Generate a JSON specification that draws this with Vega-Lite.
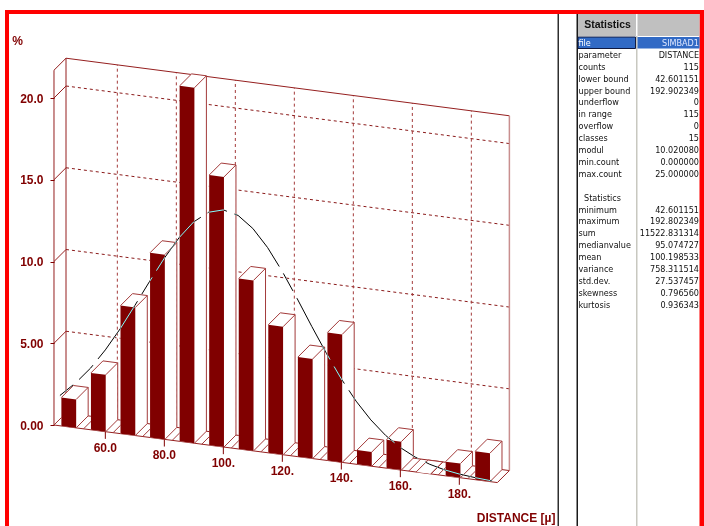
{"$schema":"https://vega.github.io/schema/vega-lite/v6.json","width":704,"height":526,"padding":0,"autosize":{"type":"none"},"background":"white","config":{"view":{"stroke":null},"font":"Liberation Sans"},
"datasets":{
"bars":[{"lower":42.60,"percent":1.74},{"lower":52.62,"percent":3.48},{"lower":62.64,"percent":7.83},{"lower":72.66,"percent":11.30},{"lower":82.68,"percent":21.74},{"lower":92.70,"percent":16.52},{"lower":102.72,"percent":10.43},{"lower":112.74,"percent":7.83},{"lower":122.76,"percent":6.09},{"lower":132.78,"percent":7.83},{"lower":142.80,"percent":0.87},{"lower":152.82,"percent":1.74},{"lower":162.84,"percent":0},{"lower":172.86,"percent":0.87},{"lower":182.88,"percent":1.74}],
"curve":[{"distance":44.6,"percent":1.85},{"distance":50,"percent":2.76},{"distance":55,"percent":3.77},{"distance":60,"percent":5.0},{"distance":65,"percent":6.4},{"distance":70,"percent":7.95},{"distance":75,"percent":9.54},{"distance":80,"percent":11.08},{"distance":85,"percent":12.45},{"distance":90,"percent":13.54},{"distance":95,"percent":14.24},{"distance":100,"percent":14.5},{"distance":105,"percent":14.28},{"distance":110,"percent":13.6},{"distance":115,"percent":12.55},{"distance":120,"percent":11.2},{"distance":125,"percent":9.67},{"distance":130,"percent":8.07},{"distance":135,"percent":6.53},{"distance":140,"percent":5.1},{"distance":145,"percent":3.86},{"distance":150,"percent":2.83},{"distance":155,"percent":2.0},{"distance":160,"percent":1.37},{"distance":165,"percent":0.91},{"distance":170,"percent":0.58},{"distance":175,"percent":0.36},{"distance":180,"percent":0.22},{"distance":185,"percent":0.13},{"distance":190,"percent":0.07},{"distance":192.9,"percent":0.05}],
"ticks":[{"distance":60,"label":"60.0"},{"distance":80,"label":"80.0"},{"distance":100,"label":"100."},{"distance":120,"label":"120."},{"distance":140,"label":"140."},{"distance":160,"label":"160."},{"distance":180,"label":"180."}],
"levels":[{"level":0},{"level":5},{"level":10},{"level":15},{"level":20}],
"edges":[{"d0":42.6,"p0":0,"z0":0,"d1":42.6,"p1":21.7,"z1":0},{"d0":42.6,"p0":0,"z0":1,"d1":42.6,"p1":21.7,"z1":1},{"d0":42.6,"p0":21.7,"z0":0,"d1":42.6,"p1":21.7,"z1":1},{"d0":42.6,"p0":21.7,"z0":1,"d1":192.9,"p1":21.7,"z1":1},{"d0":42.6,"p0":0,"z0":0,"d1":192.9,"p1":0,"z1":0},{"d0":42.6,"p0":0,"z0":1,"d1":192.9,"p1":0,"z1":1},{"d0":192.9,"p0":0,"z0":0,"d1":192.9,"p1":0,"z1":1}],
"stats":[{"row":0,"label":"file","value":"SIMBAD1"},{"row":1,"label":"parameter","value":"DISTANCE"},{"row":2,"label":"counts","value":"115"},{"row":3,"label":"lower bound","value":"42.601151"},{"row":4,"label":"upper bound","value":"192.902349"},{"row":5,"label":"underflow","value":"0"},{"row":6,"label":"in range","value":"115"},{"row":7,"label":"overflow","value":"0"},{"row":8,"label":"classes","value":"15"},{"row":9,"label":"modul","value":"10.020080"},{"row":10,"label":"min.count","value":"0.000000"},{"row":11,"label":"max.count","value":"25.000000"},{"row":14,"label":"minimum","value":"42.601151"},{"row":15,"label":"maximum","value":"192.802349"},{"row":16,"label":"sum","value":"11522.831314"},{"row":17,"label":"medianvalue","value":"95.074727"},{"row":18,"label":"mean","value":"100.198533"},{"row":19,"label":"variance","value":"758.311514"},{"row":20,"label":"std.dev.","value":"27.537457"},{"row":21,"label":"skewness","value":"0.796560"},{"row":22,"label":"kurtosis","value":"0.936343"}]
},
"layer":[
{"data":{"name":"levels"},"mark":{"type":"rule","opacity":0},
  "encoding":{"x":{"field":"level","type":"quantitative","scale":{"domain":[24.295,262.94],"nice":false,"zero":false},
    "axis":{"orient":"bottom","zindex":1,"labels":false,"ticks":false,"domain":false,"grid":false,"title":"DISTANCE [µ]","titleColor":"#800000","titleFont":"Liberation Sans","titleFontSize":12,"titleFontWeight":"bold","titleX":555,"titleY":-9,"titleAlign":"right","titleBaseline":"middle"}},
   "y":{"field":"level","type":"quantitative","scale":{"domain":[-6.177,25.994],"nice":false,"zero":false},
    "axis":{"orient":"left","zindex":1,"offset":-54,"values":[0,5,10,15,20],"labelExpr":"datum.value<10?format(datum.value,'.2f'):format(datum.value,'.1f')","domain":false,"grid":false,"tickColor":"#800000","tickSize":4,"labelPadding":7,"labelColor":"#800000","labelFont":"Liberation Sans","labelFontSize":12,"labelFontWeight":"bold","title":"%","titleColor":"#800000","titleFont":"Liberation Sans","titleFontSize":12,"titleFontWeight":"bold","titleAngle":0,"titleX":-37,"titleY":40,"titleAlign":"center","titleBaseline":"middle"}}}},
{"layer":[
 {"data":{"name":"levels"},"transform":[{"filter":"datum.level>0"},{"calculate":"46.668","as":"x0"},{"calculate":"datum.level+0.734","as":"y0"},{"calculate":"196.968","as":"x1"},{"calculate":"datum.level+0.734-150.3*0.023425","as":"y1"}],
  "mark":{"type":"rule","stroke":"#8b1a1a","strokeWidth":1,"strokeDash":[3,3]},
  "encoding":{"x":{"field":"x0","type":"quantitative","scale":{"domain":[24.295,262.94],"nice":false,"zero":false},"axis":null},
   "y":{"field":"y0","type":"quantitative","scale":{"domain":[-6.177,25.994],"nice":false,"zero":false},"axis":null},
   "x2":{"field":"x1"},"y2":{"field":"y1"}}},
 {"data":{"name":"ticks"},"transform":[{"calculate":"datum.distance+4.068","as":"x0"},{"calculate":"-(datum.distance-42.6)*0.023425+0.734","as":"y0"},{"calculate":"datum.y0+21.7","as":"y1"}],
  "mark":{"type":"rule","stroke":"#a33a3a","strokeWidth":1,"strokeDash":[3,3]},
  "encoding":{"x":{"field":"x0","type":"quantitative","axis":null},"y":{"field":"y0","type":"quantitative","axis":null},"y2":{"field":"y1"}}},
 {"data":{"name":"edges"},"transform":[{"calculate":"datum.d0+4.068*datum.z0","as":"x0"},{"calculate":"datum.p0-(datum.d0-42.6)*0.023425+0.734*datum.z0","as":"y0"},{"calculate":"datum.d1+4.068*datum.z1","as":"x1"},{"calculate":"datum.p1-(datum.d1-42.6)*0.023425+0.734*datum.z1","as":"y1"}],
  "mark":{"type":"rule","stroke":"#951f1f","strokeWidth":1},
  "encoding":{"x":{"field":"x0","type":"quantitative","axis":null},"y":{"field":"y0","type":"quantitative","axis":null},"x2":{"field":"x1"},"y2":{"field":"y1"}}},
 {"data":{"name":"levels"},"transform":[{"calculate":"42.6","as":"x0"},{"calculate":"datum.level","as":"y0"},{"calculate":"46.668","as":"x1"},{"calculate":"datum.level+0.734","as":"y1"}],
  "mark":{"type":"rule","stroke":"#951f1f","strokeWidth":1},
  "encoding":{"x":{"field":"x0","type":"quantitative","axis":null},"y":{"field":"y0","type":"quantitative","axis":null},"x2":{"field":"x1"},"y2":{"field":"y1"}}},
 {"data":{"name":"levels"},"transform":[{"filter":"datum.level==0"},{"calculate":"196.968","as":"x0"},{"calculate":"-150.3*0.023425+0.734","as":"y0"},{"calculate":"datum.y0+21.7","as":"y1"}],
  "mark":{"type":"rule","stroke":"#c98f8f","strokeWidth":1.5},
  "encoding":{"x":{"field":"x0","type":"quantitative","axis":null},"y":{"field":"y0","type":"quantitative","axis":null},"y2":{"field":"y1"}}},
 {"data":{"name":"bars"},"transform":[{"calculate":"datum.lower","as":"x0"},{"calculate":"-(datum.lower-42.6)*0.023425","as":"y0"},{"calculate":"datum.lower+4.068","as":"x1"},{"calculate":"datum.y0+0.734","as":"y1"},{"calculate":"datum.lower+0.25*10.02","as":"uL"},{"calculate":"datum.lower+0.75*10.02","as":"uR"},{"calculate":"-(datum.uL-42.6)*0.023425","as":"floorL"},{"calculate":"-(datum.uR-42.6)*0.023425","as":"floorR"},{"calculate":"datum.uL+4.068","as":"uLb"},{"calculate":"datum.uR+4.068","as":"uRb"}],
  "layer":[
  {"mark":{"type":"rule","stroke":"#a33a3a","strokeWidth":1},
   "encoding":{"x":{"field":"x0","type":"quantitative","axis":null},"y":{"field":"y0","type":"quantitative","axis":null},"x2":{"field":"x1"},"y2":{"field":"y1"}}},
  {"transform":[{"fold":["uL","uLb","uR","uRb"],"as":["stop","u"]},{"calculate":"datum.u<datum.uLb?datum.floorL+datum.percent+(datum.u-datum.uL)*0.18043:datum.percent+0.734-(datum.u-4.068-42.6)*0.023425","as":"upper"},{"calculate":"datum.u<=datum.uR?-(datum.u-42.6)*0.023425:datum.floorR+(datum.u-datum.uR)*0.18043","as":"bottom"}],
   "mark":{"type":"area","fill":"white","interpolate":"linear"},
   "encoding":{"x":{"field":"u","type":"quantitative","axis":null},"y":{"field":"upper","type":"quantitative","axis":null},"y2":{"field":"bottom"},"detail":{"field":"lower","type":"nominal"}}},
  {"transform":[{"fold":["uL","uR"],"as":["stop","u"]},{"calculate":"-(datum.u-42.6)*0.023425","as":"bottom"},{"calculate":"datum.bottom+datum.percent","as":"upper"}],
   "mark":{"type":"area","fill":"#800000","interpolate":"linear"},
   "encoding":{"x":{"field":"u","type":"quantitative","axis":null},"y":{"field":"upper","type":"quantitative","axis":null},"y2":{"field":"bottom"},"detail":{"field":"lower","type":"nominal"}}},
  {"transform":[{"calculate":"datum.uR","as":"a"},{"calculate":"datum.floorR","as":"b"},{"calculate":"datum.uRb","as":"c"},{"calculate":"datum.floorR+0.734","as":"d"}],
   "mark":{"type":"rule","stroke":"#a33a3a","strokeWidth":1},
   "encoding":{"x":{"field":"a","type":"quantitative","axis":null},"y":{"field":"b","type":"quantitative","axis":null},"x2":{"field":"c"},"y2":{"field":"d"}}},
  {"transform":[{"calculate":"datum.uL","as":"a"},{"calculate":"datum.floorL+datum.percent","as":"b"},{"calculate":"datum.uLb","as":"c"},{"calculate":"datum.b+0.734","as":"d"}],
   "mark":{"type":"rule","stroke":"#a33a3a","strokeWidth":1},
   "encoding":{"x":{"field":"a","type":"quantitative","axis":null},"y":{"field":"b","type":"quantitative","axis":null},"x2":{"field":"c"},"y2":{"field":"d"}}},
  {"transform":[{"calculate":"datum.uR","as":"a"},{"calculate":"datum.floorR+datum.percent","as":"b"},{"calculate":"datum.uRb","as":"c"},{"calculate":"datum.b+0.734","as":"d"}],
   "mark":{"type":"rule","stroke":"#a33a3a","strokeWidth":1},
   "encoding":{"x":{"field":"a","type":"quantitative","axis":null},"y":{"field":"b","type":"quantitative","axis":null},"x2":{"field":"c"},"y2":{"field":"d"}}},
  {"transform":[{"calculate":"datum.uLb","as":"a"},{"calculate":"datum.floorL+datum.percent+0.734","as":"b"},{"calculate":"datum.uRb","as":"c"},{"calculate":"datum.floorR+datum.percent+0.734","as":"d"}],
   "mark":{"type":"rule","stroke":"#a33a3a","strokeWidth":1},
   "encoding":{"x":{"field":"a","type":"quantitative","axis":null},"y":{"field":"b","type":"quantitative","axis":null},"x2":{"field":"c"},"y2":{"field":"d"}}},
  {"transform":[{"calculate":"datum.uRb","as":"a"},{"calculate":"datum.floorR+0.734","as":"b"},{"calculate":"datum.b+datum.percent","as":"d"}],
   "mark":{"type":"rule","stroke":"#a33a3a","strokeWidth":1},
   "encoding":{"x":{"field":"a","type":"quantitative","axis":null},"y":{"field":"b","type":"quantitative","axis":null},"y2":{"field":"d"}}}
  ]},
 {"data":{"name":"ticks"},"transform":[{"calculate":"-(datum.distance-42.6)*0.023425","as":"y0"},{"calculate":"datum.y0-0.44","as":"y1"}],
  "layer":[
  {"mark":{"type":"rule","stroke":"#800000","strokeWidth":1},
   "encoding":{"x":{"field":"distance","type":"quantitative","axis":null},"y":{"field":"y0","type":"quantitative","axis":null},"y2":{"field":"y1"}}},
  {"mark":{"type":"text","dy":16,"color":"#800000","font":"Liberation Sans","fontSize":12,"fontWeight":"bold"},
   "encoding":{"x":{"field":"distance","type":"quantitative","axis":null},"y":{"field":"y0","type":"quantitative","axis":null},"text":{"field":"label","type":"nominal"}}}
  ]},
 {"data":{"name":"curve"},"transform":[{"calculate":"datum.percent-(datum.distance-42.6)*0.023425","as":"projected"}],
  "mark":{"type":"line","stroke":"white","strokeWidth":1,"blend":"difference","strokeDash":[70,8,20,8],"strokeDashOffset":53,"interpolate":"linear"},
  "encoding":{"x":{"field":"distance","type":"quantitative","axis":null},"y":{"field":"projected","type":"quantitative","axis":null}}}
]},
{"data":{"values":[{}]},
 "encoding":{"x":{"datum":0,"type":"quantitative","axis":null,"scale":{"domain":[0,704],"nice":false,"zero":false}},"y":{"datum":0,"type":"quantitative","axis":null,"scale":{"domain":[526,0],"nice":false,"zero":false}}},
 "layer":[
 {"mark":{"type":"rect","fill":"#ff0000"},"encoding":{"x":{"datum":5,"type":"quantitative"},"x2":{"datum":704},"y":{"datum":10,"type":"quantitative"},"y2":{"datum":14}}},
 {"mark":{"type":"rect","fill":"#ff0000"},"encoding":{"x":{"datum":5,"type":"quantitative"},"x2":{"datum":9},"y":{"datum":10,"type":"quantitative"},"y2":{"datum":526}}},
 {"mark":{"type":"rect","fill":"#ff0000"},"encoding":{"x":{"datum":699.5,"type":"quantitative"},"x2":{"datum":704},"y":{"datum":10,"type":"quantitative"},"y2":{"datum":526}}},
 {"mark":{"type":"rect","fill":"#2e2e2e"},"encoding":{"x":{"datum":557.5,"type":"quantitative"},"x2":{"datum":559},"y":{"datum":14,"type":"quantitative"},"y2":{"datum":526}}},
 {"mark":{"type":"rect","fill":"#1a1a1a"},"encoding":{"x":{"datum":576.5,"type":"quantitative"},"x2":{"datum":578},"y":{"datum":14,"type":"quantitative"},"y2":{"datum":526}}},
 {"mark":{"type":"rect","fill":"#c8c8c0"},"encoding":{"x":{"datum":636,"type":"quantitative"},"x2":{"datum":637.5},"y":{"datum":36,"type":"quantitative"},"y2":{"datum":526}}},
 {"mark":{"type":"rect","fill":"#c0c0c0"},"encoding":{"x":{"datum":578,"type":"quantitative"},"x2":{"datum":636},"y":{"datum":14,"type":"quantitative"},"y2":{"datum":36}}},
 {"mark":{"type":"rect","fill":"#c0c0c0"},"encoding":{"x":{"datum":637.5,"type":"quantitative"},"x2":{"datum":699.5},"y":{"datum":14,"type":"quantitative"},"y2":{"datum":36}}},
 {"mark":{"type":"rect","fill":"#316ac5","stroke":"#101a40","strokeWidth":1},"encoding":{"x":{"datum":578,"type":"quantitative"},"x2":{"datum":635.5},"y":{"datum":37,"type":"quantitative"},"y2":{"datum":48.5}}},
 {"mark":{"type":"rect","fill":"#316ac5"},"encoding":{"x":{"datum":637.5,"type":"quantitative"},"x2":{"datum":699.5},"y":{"datum":37,"type":"quantitative"},"y2":{"datum":48.5}}}
 ]},
{"data":{"name":"stats"},
 "layer":[
 {"mark":{"type":"text","align":"left","baseline":"middle","font":"DejaVu Sans Condensed, Liberation Sans","fontSize":9},
  "encoding":{"x":{"datum":578.5,"type":"quantitative","axis":null,"scale":{"domain":[0,704],"nice":false,"zero":false}},"y":{"field":"row","type":"quantitative","axis":null,"scale":{"domain":[40.59,-3.613],"nice":false,"zero":false}},"text":{"field":"label","type":"nominal"},"color":{"condition":{"test":"datum.row==0","value":"white"},"value":"#111"}}},
 {"mark":{"type":"text","align":"right","baseline":"middle","font":"DejaVu Sans Condensed, Liberation Sans","fontSize":9},
  "encoding":{"x":{"datum":699,"type":"quantitative","axis":null},"y":{"field":"row","type":"quantitative","axis":null},"text":{"field":"value","type":"nominal"},"color":{"condition":{"test":"datum.row==0","value":"#e0e8ff"},"value":"#111"}}},
 {"data":{"values":[{"row":13,"label":"Statistics"}]},"mark":{"type":"text","align":"left","baseline":"middle","font":"DejaVu Sans Condensed, Liberation Sans","fontSize":9,"color":"#111"},
  "encoding":{"x":{"datum":584,"type":"quantitative","axis":null},"y":{"field":"row","type":"quantitative","axis":null},"text":{"field":"label","type":"nominal"}}},
 {"data":{"values":[{"row":-1.5,"label":"Statistics"}]},"mark":{"type":"text","align":"center","baseline":"middle","font":"Liberation Sans","fontSize":10.5,"fontWeight":"bold","color":"#111"},
  "encoding":{"x":{"datum":607.5,"type":"quantitative","axis":null},"y":{"field":"row","type":"quantitative","axis":null},"text":{"field":"label","type":"nominal"}}}
 ]}
],
"resolve":{"scale":{"x":"independent","y":"independent"}}}
